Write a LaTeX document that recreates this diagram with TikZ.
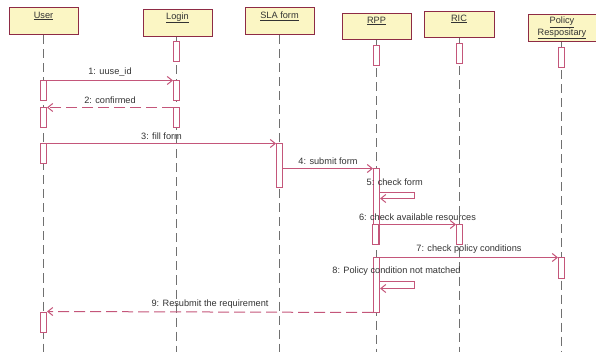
\documentclass[tikz,border=0pt]{standalone}
\usepackage{fontspec}
\setmainfont{Liberation Sans}
\usetikzlibrary{arrows.meta}

\definecolor{boxfill}{HTML}{FBF6C4}
\definecolor{boxline}{HTML}{8E2B45}
\definecolor{msgline}{HTML}{C4567A}
\definecolor{lifegray}{HTML}{707070}
\definecolor{txt}{HTML}{333333}

\begin{document}
\begin{tikzpicture}[x=1pt,y=-1pt,
  font=\fontsize{9.2}{11}\selectfont,
  objbox/.style={draw=boxline, fill=boxfill, line width=1pt,
    inner sep=0pt, anchor=north west, minimum height=27pt},
  objtitle/.style={text=txt, inner sep=0pt, align=center, anchor=center},
  lifeln/.style={draw=lifegray, line width=1pt, dash pattern=on 9pt off 5pt},
  actbar/.style={draw=msgline, fill=white, line width=1pt, inner sep=0pt,
    minimum width=6pt, anchor=north},
  msg/.style={draw=msgline, line width=1pt,
    -{Straight Barb[length=5pt,width=8pt]}},
  reply/.style={msg, dash pattern=on 11pt off 5pt},
  lbl/.style={text=txt, above=3.5pt, inner sep=0pt, midway},
  selflbl/.style={text=txt, inner sep=0pt}
]
\useasboundingbox (0,0) rectangle (596,352);

\begin{scope}[shift={(0.5,0.5)}]
% objects
\node[objbox, minimum width=69pt] (user)   at (8,7)   {};
\node[objbox, minimum width=69pt] (login)  at (142,9) {};
\node[objbox, minimum width=69pt] (sla)    at (244,7) {};
\node[objbox, minimum width=69pt, minimum height=26pt] (rpp) at (341,13) {};
\node[objbox, minimum width=70pt, minimum height=26pt] (ric) at (423,11) {};
\node[objbox, minimum width=68pt] (policy) at (527,14) {};

\node[objtitle] (userT)   at ([yshift=-8.5pt]user.north)   {\underline{User}};
\node[objtitle] (loginT)  at ([yshift=-8.5pt]login.north)  {\underline{Login}};
\node[objtitle] (slaT)    at ([yshift=-8.5pt]sla.north)    {\underline{SLA form}};
\node[objtitle] (rppT)    at ([yshift=-7.5pt]rpp.north)    {\underline{RPP}};
\node[objtitle] (ricT)    at ([yshift=-7.5pt]ric.north)    {\underline{RIC}};
\node[objtitle] (policyT) at ([yshift=-8pt]policy.north) {\underline{Policy}};
\node[objtitle] (policyT2) at ([yshift=-19.5pt]policy.north) {\underline{Respositary}};

% lifeline ends
\coordinate (userE)   at (43,352);
\coordinate (loginE)  at (176,352);
\coordinate (slaE)    at (279,352);
\coordinate (rppE)    at (376,352);
\coordinate (ricE)    at (459,352);
\coordinate (policyE) at (561,352);

\draw[lifeln] (userE |- user.south)     -- (userE);
\draw[lifeln] (loginE |- login.south)   -- (loginE);
\draw[lifeln] (slaE |- sla.south)       -- (slaE);
\draw[lifeln] (rppE |- rpp.south)       -- (rppE);
\draw[lifeln] (ricE |- ric.south)       -- (ricE);
\draw[lifeln] (policyE |- policy.south) -- (policyE);

% activation bars
\node[actbar, minimum height=20pt] (lg0) at (176,41) {};
\node[actbar, minimum height=20pt] (rp0) at (376,45) {};
\node[actbar, minimum height=20pt] (rc0) at (459,43) {};
\node[actbar, minimum height=20pt] (pl0) at (561,47) {};

\node[actbar, minimum height=20pt] (us1) at (43,80)  {};
\node[actbar, minimum height=20pt] (lg1) at (176,80) {};
\node[actbar, minimum height=20pt] (us2) at (43,107) {};
\node[actbar, minimum height=20pt] (lg2) at (176,107) {};
\node[actbar, minimum height=20pt] (us3) at (43,143) {};
\node[actbar, minimum height=44pt] (sl1) at (279,143) {};
\node[actbar, minimum height=76pt] (rpA) at (376,168) {};
\node[actbar, minimum height=20pt] (rpB) at (375,224) {};
\node[actbar, minimum height=20pt] (rc1) at (459,224) {};
\node[actbar, minimum height=54pt] (rpC) at (376,257) {};
\node[actbar, minimum height=20pt] (pl1) at (561,257) {};
\node[actbar, minimum height=20pt] (us4) at (43,311) {};

% messages
\draw[msg] (us1.north east) -- node[lbl] {1: uuse\_id} (lg1.north west);
\draw[reply] (lg2.north west) -- node[lbl] {2: confirmed} (us2.north east);
\draw[msg] (us3.north east) -- node[lbl] {3: fill form} (sl1.north west);
\draw[msg] (sl1.east |- rpA.north) -- node[lbl] {4: submit form} (rpA.north west);

\node[selflbl, anchor=west] (m5) at (366,182) {5: check form};
\draw[msg] ([yshift=-24pt]rpA.north east) -- ++(34,0) -- ++(0,6)
  -- ([yshift=-30pt]rpA.north east);

\draw[msg] (rpB.north east) -- node[lbl] {6: check available resources} (rc1.north west);
\draw[msg] (rpC.north east) -- node[lbl] {7: check policy conditions} (pl1.north west);

\node[selflbl] (m8) at (396,271) {8: Policy condition not matched};
\draw[msg] ([yshift=-24pt]rpC.north east) -- ++(34,0) -- ++(0,7)
  -- ([yshift=-31pt]rpC.north east);

\draw[reply] (rpC.south west) -- node[lbl] {9: Resubmit the requirement} (us4.north east);
\end{scope}
\end{tikzpicture}
\end{document}
